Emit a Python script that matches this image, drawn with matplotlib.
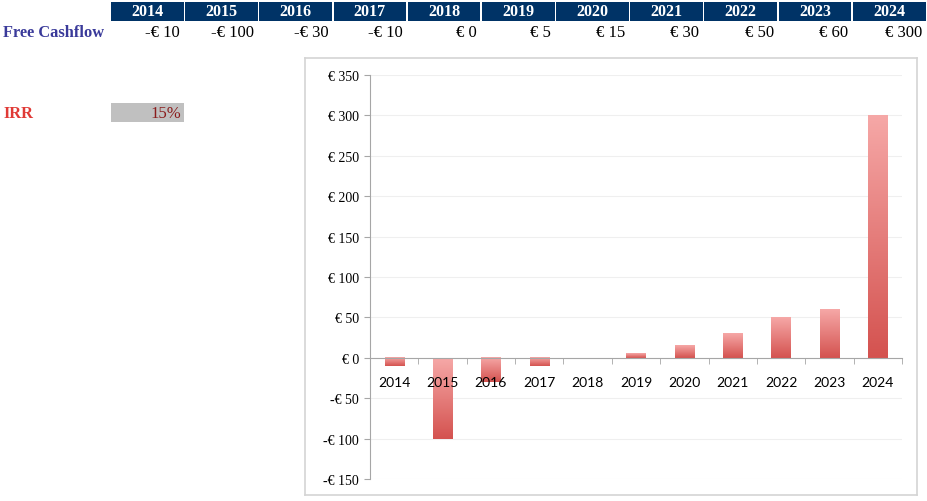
import matplotlib
matplotlib.use("Agg")
import matplotlib.pyplot as plt
import numpy as np
from matplotlib.patches import Rectangle
from matplotlib.colors import LinearSegmentedColormap
from matplotlib.ticker import FixedLocator, FuncFormatter

years = ["2014", "2015", "2016", "2017", "2018", "2019", "2020", "2021", "2022", "2023", "2024"]
cashflow = [-10, -100, -30, -10, 0, 5, 15, 30, 50, 60, 300]
cashflow_labels = ["-€ 10", "-€ 100", "-€ 30", "-€ 10", "€ 0", "€ 5", "€ 15", "€ 30", "€ 50", "€ 60", "€ 300"]
irr_label = "15%"
yticks = [-150, -100, -50, 0, 50, 100, 150, 200, 250, 300, 350]

W, H = 927, 502
fig = plt.figure(figsize=(W / 100, H / 100), dpi=100)
fig.patch.set_facecolor("white")

def fx(x):
    return x / W

def fy(y):
    return 1 - y / H

serif = ["Liberation Serif", "DejaVu Serif"]
navy = "#003366"

# header table
x0, pitch = 111, (W - 111) / 11
for i, (yr, lab) in enumerate(zip(years, cashflow_labels)):
    left = x0 + i * pitch
    fig.patches.append(Rectangle((fx(left), fy(22)), fx(pitch - 1.5), 19 / H,
                                 transform=fig.transFigure, facecolor=navy, edgecolor="none"))
    fig.text(fx(left + (pitch - 1.5) / 2), fy(12.5), yr, ha="center", va="center",
             color="white", fontsize=11.5, fontweight="bold", family=serif)
    fig.text(fx(left + pitch - 5), fy(33), lab, ha="right", va="center",
             color="black", fontsize=12, family=serif)

fig.text(fx(3), fy(33), "Free Cashflow", ha="left", va="center", color="#3a3a9a",
         fontsize=11.8, fontweight="bold", family=serif)
fig.text(fx(3), fy(114), "IRR", ha="left", va="center", color="#e03a36",
         fontsize=11.8, fontweight="bold", family=serif)
fig.patches.append(Rectangle((fx(111), fy(123)), fx(73), 19 / H,
                             transform=fig.transFigure, facecolor="#c0c0c0", edgecolor="none"))
fig.text(fx(181), fy(114), irr_label, ha="right", va="center", color="#8b1c1c",
         fontsize=12, family=serif)

# chart frame (background axes)
bg = fig.add_axes([fx(305), fy(496), fx(612), 437 / H])
bg.set_xticks([])
bg.set_yticks([])
for s in bg.spines.values():
    s.set_color("#d4d4d4")
    s.set_linewidth(1.2)
bg.set_zorder(0)

ax = fig.add_axes([fx(370), fy(480), fx(532), 404 / H])
ax.set_zorder(1)
ax.set_facecolor("none")
ax.set_axisbelow(False)
x = np.arange(len(years))
bars = ax.bar(x, cashflow, width=0.4, color="none", edgecolor="none")

cmap = LinearSegmentedColormap.from_list("g", ["#d4524f", "#f6a8a7"])
grad = np.linspace(0, 1, 256).reshape(-1, 1)
for b in bars:
    h = b.get_height()
    if h == 0:
        continue
    bx, by, bw = b.get_x(), b.get_y(), b.get_width()
    ylo, yhi = min(by, by + h), max(by, by + h)
    ax.imshow(grad, extent=[bx, bx + bw, ylo, yhi], origin="lower", aspect="auto",
              cmap=cmap, zorder=2, interpolation="bilinear")

ax.set_xlim(-0.5, len(years) - 0.5)
ax.set_ylim(-150, 350)
ax.set_yticks(yticks)
ax.yaxis.set_major_formatter(FuncFormatter(lambda v, p: ("-€ %d" % abs(v)) if v < 0 else ("€ %d" % v)))
for t in yticks:
    ax.axhline(t, color="#efefef", lw=0.8, zorder=0.5)

for s in ["top", "right"]:
    ax.spines[s].set_visible(False)
ax.spines["left"].set_color("#a6a6a6")
ax.spines["bottom"].set_position(("data", 0))
ax.spines["bottom"].set_color("#a6a6a6")
ax.spines["bottom"].set_zorder(4)

ax.set_xticks(x)
ax.set_xticklabels(years)
ax.xaxis.set_minor_locator(FixedLocator(np.arange(-0.5, len(years), 1.0)))
ax.tick_params(axis="x", which="major", length=0, pad=13, labelsize=10)
ax.tick_params(axis="x", which="minor", length=4, color="#a6a6a6", direction="out")
ax.tick_params(axis="y", length=4, color="#a6a6a6", labelsize=10, pad=4)
for lbl in ax.get_xticklabels():
    lbl.set_family(["Lato", "DejaVu Sans"])
for lbl in ax.get_yticklabels():
    lbl.set_family(serif)

fig.savefig("out.png", dpi=100)
